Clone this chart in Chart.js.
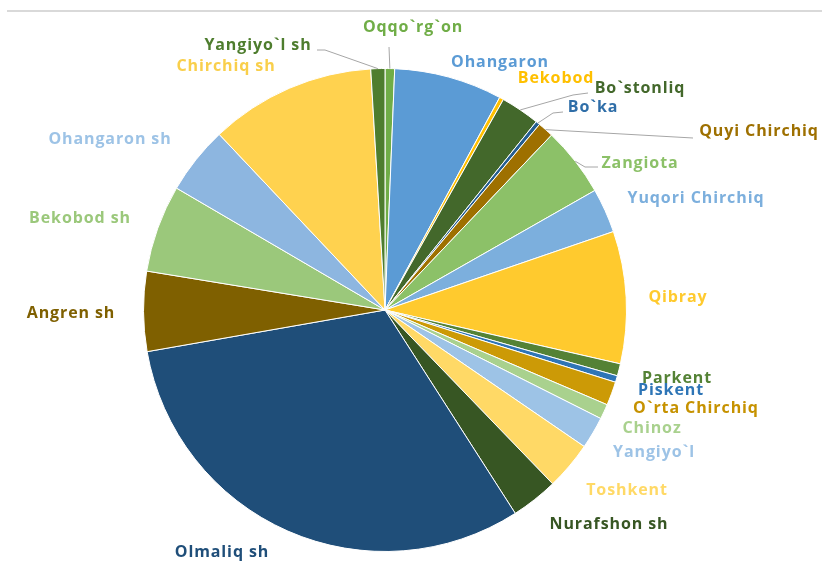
<!DOCTYPE html>
<html>
<head>
<meta charset="utf-8">
<script src="https://cdn.jsdelivr.net/npm/chart.js@4/dist/chart.umd.min.js"></script>
<style>
  html, body { margin: 0; padding: 0; background: #fff; }
  #wrap { position: relative; width: 822px; height: 562px; }
  #topline { position: absolute; left: 7px; top: 10px; width: 815px; height: 2px; background: #D9D9D9; }
</style>
</head>
<body>
<div id="wrap">
  <div id="topline"></div>
  <canvas id="c" width="822" height="562"></canvas>
</div>
<script>
// ---- data ----
const categories = [
  "Oqqo`rg`on", "Ohangaron", "Bekobod", "Bo`stonliq", "Bo`ka", "Quyi Chirchiq",
  "Zangiota", "Yuqori Chirchiq", "Qibray", "Parkent", "Piskent", "O`rta Chirchiq",
  "Chinoz", "Yangiyo`l", "Toshkent", "Nurafshon sh", "Olmaliq sh", "Angren sh",
  "Bekobod sh", "Ohangaron sh", "Chirchiq sh", "Yangiyo`l sh"
];
const values = [
  0.64, 7.22, 0.28, 2.61, 0.28, 1.06,
  4.64, 2.97, 8.83, 0.81, 0.44, 1.58,
  1.00, 2.14, 3.22, 3.14, 31.25, 5.33,
  5.83, 4.53, 11.08, 0.94
];
const sliceColors = [
  "#70AD47", "#5B9BD5", "#FFC000", "#43682B", "#255E91", "#9E7000",
  "#8CC168", "#7CAFDD", "#FFCA2E", "#548235", "#2E75B6", "#CC9A06",
  "#A9D18E", "#9DC3E6", "#FFD966", "#375623", "#1F4E79", "#7F6000",
  "#9BC87B", "#8DB6E0", "#FFD24F", "#4E7D2E"
];
const labelColors = [
  "#70AD47", "#5B9BD5", "#FFC000", "#43682B", "#2F6EA8", "#9E7000",
  "#8CC168", "#7CAFDD", "#FFCA2E", "#548235", "#2E75B6", "#C69200",
  "#A9D18E", "#9DC3E6", "#FFD966", "#375623", "#1F4E79", "#7F6000",
  "#9BC87B", "#9DC3E6", "#F9CF4B", "#4E7D2E"
];

// ---- label layout: text centre offsets from the pie centre ----
const labelOffsets = [
  [28, -283], [115, -248], [171, -232], [255, -222], [208, -203], [374, -179],
  [255, -147], [311, -112], [293, -13], [292, 68], [286, 80], [311, 98],
  [267, 118], [269, 142], [242, 180], [224, 214], [-163, 242], [-314, 3],
  [-305, -92], [-275, -171], [-159, -244], [-127, -265]
];
// leader line elbow/end points (offsets from pie centre); start on the arc edge
const leaders = {
  0: [[4, -263]],
  3: [[188, -215], [203, -217]],
  4: [[168, -197], [178, -198]],
  5: [[308, -172]],
  6: [[200, -143], [213, -143]],
  21: [[-60, -260], [-68, -260]]
};

const labelPlugin = {
  id: 'outLabels',
  afterDatasetsDraw(chart) {
    const ctx = chart.ctx;
    const meta = chart.getDatasetMeta(0);
    ctx.save();
    meta.data.forEach((arc, i) => {
      const cx = arc.x, cy = arc.y, r = arc.outerRadius;
      const mid = (arc.startAngle + arc.endAngle) / 2;
      if (leaders[i]) {
        ctx.beginPath();
        ctx.strokeStyle = '#A6A6A6';
        ctx.lineWidth = 1;
        ctx.moveTo(cx + Math.cos(mid) * r, cy + Math.sin(mid) * r);
        leaders[i].forEach(p => ctx.lineTo(cx + p[0], cy + p[1]));
        ctx.stroke();
      }
    });
    ctx.font = 'bold 16px "Open Sans"';
    try { ctx.letterSpacing = '0.9px'; } catch (e) {}
    ctx.textAlign = 'center';
    ctx.textBaseline = 'middle';
    meta.data.forEach((arc, i) => {
      ctx.fillStyle = labelColors[i];
      ctx.fillText(categories[i], arc.x + labelOffsets[i][0], arc.y + labelOffsets[i][1]);
    });
    ctx.restore();
  }
};

new Chart(document.getElementById('c'), {
  type: 'pie',
  data: {
    labels: categories,
    datasets: [{
      data: values,
      backgroundColor: sliceColors,
      borderColor: '#FFFFFF',
      borderWidth: 1
    }]
  },
  options: {
    responsive: false,
    animation: false,
    layout: { padding: { left: 143, right: 195, top: 68, bottom: 10 } },
    plugins: {
      legend: { display: false },
      tooltip: { enabled: false }
    }
  },
  plugins: [labelPlugin]
});
</script>
</body>
</html>
